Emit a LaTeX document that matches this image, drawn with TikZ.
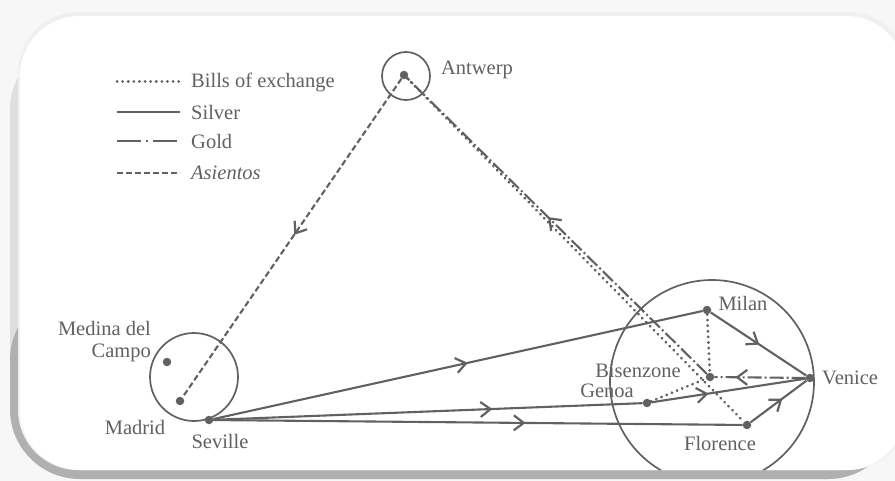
\documentclass[tikz,border=0pt]{standalone}
\usepackage{fontspec}
\setmainfont{Liberation Serif}
\usetikzlibrary{arrows.meta,decorations.markings}
\definecolor{ink}{gray}{0.38}
\tikzset{
  town/.style={circle,fill=ink,inner sep=0pt,minimum size=8.5pt},
  lbl/.style={text=ink,font=\fontsize{20.5}{22}\selectfont,inner sep=0pt},
  base/.style={draw=ink,line width=2.1pt},
  bills/.style={base,line width=3pt,dash pattern=on 0.1pt off 5.5pt,line cap=round},
  silver/.style={base},
  gold/.style={base,dash pattern=on 14pt off 3pt on 2pt off 3pt},
  asientos/.style={base,dash pattern=on 6pt off 3pt},
  ring/.style={draw=ink,line width=1.7pt},
  midarrow/.style={postaction={decorate},decoration={markings,mark=at position #1 with {\arrow[ink,line width=2.2pt]{Straight Barb[length=10pt,width=15pt]}}}},
}
\begin{document}
\begin{tikzpicture}[x=1pt,y=-1pt]
\useasboundingbox (0,0) rectangle (895,481);
% frame
\fill[gray!6] (0,0) rectangle (895,481);
\fill[gray!25,rounded corners=70pt] (10,40) rectangle (898,479);
\fill[gray!62,rounded corners=70pt] (10,290) rectangle (898,479);
\fill[gray!12,rounded corners=60pt] (18,12) rectangle (908,470);
\fill[white,rounded corners=60pt] (20,16) rectangle (906,470);
\begin{scope}
\clip[rounded corners=60pt] (20,16) rectangle (906,470);
% circles
\draw[ring] (406,76) circle[radius=24pt];
\draw[ring] (194,377) circle[radius=44pt];
\draw[ring] (712,382) circle[radius=102pt];
% towns
\node[town] (antwerp) at (404,75) {};
\node[town] (medina) at (167,362) {};
\node[town] (madrid) at (180,401) {};
\node[town] (seville) at (209,420) {};
\node[town] (milan) at (707,310) {};
\node[town] (bisenzone) at (710,377) {};
\node[town] (genoa) at (647,403) {};
\node[town] (florence) at (747,425) {};
\node[town] (venice) at (810,378) {};
% labels
\node[lbl] at (477,70) {Antwerp};
\node[lbl,align=right,anchor=east] at (151,342) {Medina del\\Campo};
\node[lbl] at (135,427) {Madrid};
\node[lbl] at (220,441) {Seville};
\node[lbl] at (743,303) {Milan};
\node[lbl] at (638,371) {Bisenzone};
\node[lbl] at (607,391) {Genoa};
\node[lbl] at (720,443) {Florence};
\node[lbl,anchor=west] at (822,378) {Venice};
% connectors
\draw[asientos,midarrow=0.49] (antwerp) -- (madrid);
\draw[bills] (antwerp) -- (florence);
\draw[gold,midarrow=0.53] (bisenzone) -- (antwerp);
\draw[silver,midarrow=0.52] (seville) -- (milan);
\draw[silver,midarrow=0.65] (seville) -- (genoa);
\draw[silver,midarrow=0.59] (seville) -- (florence);
\draw[silver,midarrow=0.51] (milan) -- (venice);
\draw[silver,midarrow=0.57] (florence) -- (venice);
\draw[silver,midarrow=0.37] (genoa) -- (venice);
\draw[gold,midarrow=0.77] (venice) -- (bisenzone);
\draw[bills] (milan) -- (bisenzone);
\draw[bills] (genoa) -- (bisenzone);
% legend
\coordinate (a1) at (117,82);  \coordinate (b1) at (180,82);
\coordinate (a2) at (117,112); \coordinate (b2) at (180,112);
\coordinate (a3) at (117,141); \coordinate (b3) at (180,141);
\coordinate (a4) at (117,173); \coordinate (b4) at (180,173);
\draw[bills] (a1) -- (b1);
\draw[silver] (a2) -- (b2);
\draw[base,dash pattern=on 24pt off 5pt on 2pt off 5pt] (a3) -- (b3);
\draw[asientos] (a4) -- (b4);
\node[lbl,anchor=west] (k1) at (191,82) {Bills of exchange};
\node[lbl,anchor=west] (k2) at (191,112) {Silver};
\node[lbl,anchor=west] (k3) at (191,141) {Gold};
\node[lbl,anchor=west] (k4) at (191,173) {\itshape Asientos};
\end{scope}
\end{tikzpicture}
\end{document}
